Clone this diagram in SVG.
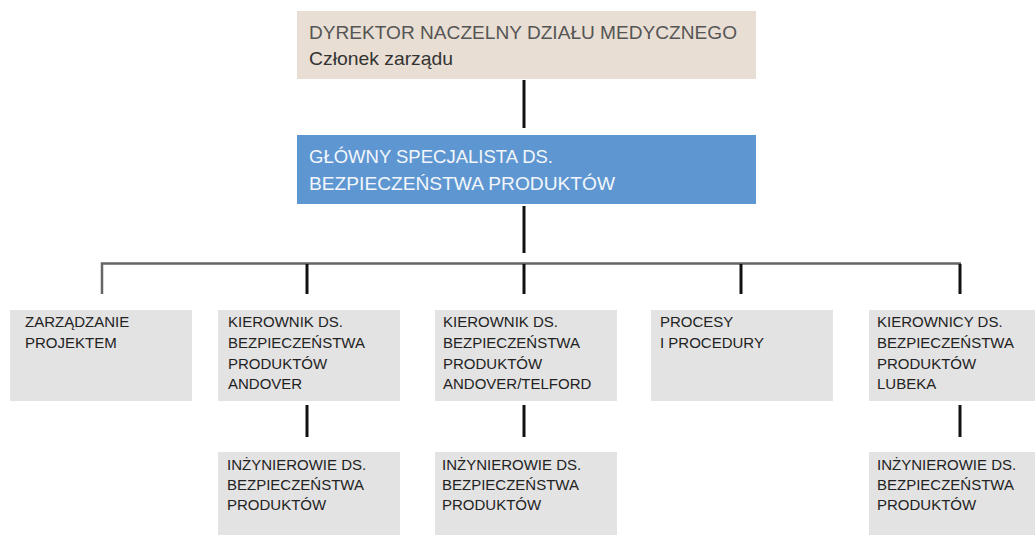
<svg xmlns="http://www.w3.org/2000/svg" width="1035" height="535" viewBox="0 0 1035 535">
<style>
.box{fill:#e3e3e3}
.t{font-family:"Liberation Sans",Arial,sans-serif;font-size:15px;fill:#222}
.big{font-family:"Liberation Sans",Arial,sans-serif;font-size:18.5px}
.blk{stroke:#111;stroke-width:3;fill:none}
.gry{stroke:#666;stroke-width:2.5;fill:none}
</style>
<rect width="1035" height="535" fill="#fff"/>
<g id="connectors">
<line class="blk" x1="524" y1="80" x2="524" y2="128"/>
<line class="blk" x1="524" y1="206" x2="524" y2="253"/>
<polyline class="gry" points="102,294 102,263.5 961,263.5"/>
<line class="blk" x1="307" y1="264" x2="307" y2="294"/>
<line class="blk" x1="524" y1="264" x2="524" y2="294"/>
<line class="blk" x1="741" y1="264" x2="741" y2="294"/>
<line class="blk" x1="960" y1="264" x2="960" y2="294"/>
<line class="blk" x1="307" y1="405" x2="307" y2="437"/>
<line class="blk" x1="524" y1="405" x2="524" y2="437"/>
<line class="blk" x1="960" y1="405" x2="960" y2="437"/>
</g>
<g id="dyrektor">
<rect x="297" y="11" width="459" height="68" fill="#e8ded3"/>
<text class="big" x="309" y="39" fill="#555" textLength="428" lengthAdjust="spacingAndGlyphs">DYREKTOR NACZELNY DZIAŁU MEDYCZNEGO</text>
<text class="big" x="309" y="65" fill="#333" textLength="144" lengthAdjust="spacingAndGlyphs">Członek zarządu</text>
</g>
<g id="glowny">
<rect x="297" y="135" width="459" height="69" fill="#5e96d1"/>
<text class="big" x="309" y="163" fill="#f2f6fb">GŁÓWNY SPECJALISTA DS.</text>
<text class="big" x="309" y="190" fill="#f2f6fb" textLength="306" lengthAdjust="spacingAndGlyphs">BEZPIECZEŃSTWA PRODUKTÓW</text>
</g>
<g id="zarzadzanie">
<rect class="box" x="10" y="310" width="182" height="91"/>
<text class="t" x="25" y="327">ZARZĄDZANIE</text>
<text class="t" x="25" y="348">PROJEKTEM</text>
</g>
<g id="kier-andover">
<rect class="box" x="218" y="310" width="182" height="91"/>
<text class="t" x="228" y="327">KIEROWNIK DS.</text>
<text class="t" x="228" y="348">BEZPIECZEŃSTWA</text>
<text class="t" x="228" y="369">PRODUKTÓW</text>
<text class="t" x="228" y="389">ANDOVER</text>
</g>
<g id="kier-telford">
<rect class="box" x="435" y="310" width="182" height="91"/>
<text class="t" x="443" y="327">KIEROWNIK DS.</text>
<text class="t" x="443" y="348">BEZPIECZEŃSTWA</text>
<text class="t" x="443" y="369">PRODUKTÓW</text>
<text class="t" x="443" y="389">ANDOVER/TELFORD</text>
</g>
<g id="procesy">
<rect class="box" x="651" y="310" width="182" height="91"/>
<text class="t" x="660" y="327">PROCESY</text>
<text class="t" x="660" y="348">I PROCEDURY</text>
</g>
<g id="kier-lubeka">
<rect class="box" x="869" y="310" width="166" height="91"/>
<text class="t" x="877" y="327">KIEROWNICY DS.</text>
<text class="t" x="877" y="348">BEZPIECZEŃSTWA</text>
<text class="t" x="877" y="369">PRODUKTÓW</text>
<text class="t" x="877" y="389">LUBEKA</text>
</g>
<g id="inz-andover">
<rect class="box" x="218" y="452" width="182" height="83"/>
<text class="t" x="227" y="470">INŻYNIEROWIE DS.</text>
<text class="t" x="227" y="490">BEZPIECZEŃSTWA</text>
<text class="t" x="227" y="510">PRODUKTÓW</text>
</g>
<g id="inz-telford">
<rect class="box" x="435" y="452" width="182" height="83"/>
<text class="t" x="442" y="470">INŻYNIEROWIE DS.</text>
<text class="t" x="442" y="490">BEZPIECZEŃSTWA</text>
<text class="t" x="442" y="510">PRODUKTÓW</text>
</g>
<g id="inz-lubeka">
<rect class="box" x="869" y="452" width="166" height="83"/>
<text class="t" x="877" y="470">INŻYNIEROWIE DS.</text>
<text class="t" x="877" y="490">BEZPIECZEŃSTWA</text>
<text class="t" x="877" y="510">PRODUKTÓW</text>
</g>
</svg>
